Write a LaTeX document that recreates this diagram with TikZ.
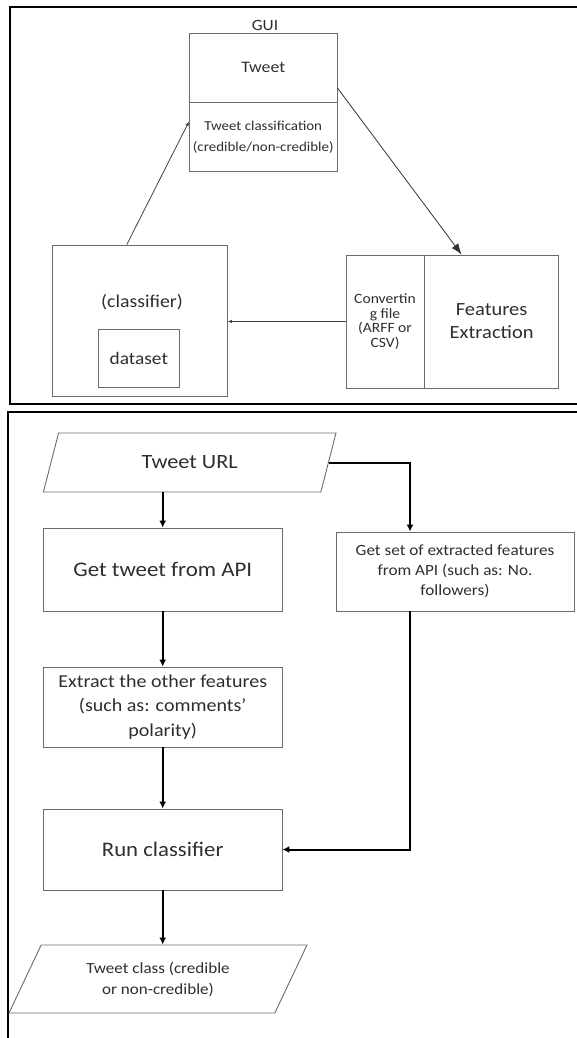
\documentclass[tikz,border=0pt]{standalone}
\usepackage{fontspec}
\setmainfont{Carlito}[FakeStretch=1.1]
\usetikzlibrary{arrows.meta,shapes.geometric,positioning}
\definecolor{boxline}{gray}{0.42}
\definecolor{txtgray}{gray}{0.18}
\newcommand{\fsz}[2]{\fontsize{#1}{#2}\selectfont}

\begin{document}
\begin{tikzpicture}[x=1pt,y=-1pt,
  blk/.style={draw=boxline,line width=0.9pt,text=txtgray,align=center,inner sep=1pt},
  io/.style={blk,trapezium,trapezium stretches body,inner sep=1pt},
  link/.style={draw=black!75,line width=0.8pt,-{Latex[length=4.5pt,width=3.5pt]}},
  flow/.style={draw=black,line width=2pt,-{Latex[length=7pt,width=7pt]}},
  frame/.style={draw=black,line width=1.4pt}]
  \useasboundingbox (0,0) rectangle (577,1038);

  % GUI panel
  \draw[frame] (577,7) -- (10,7) -- (10,404) -- (577,404);
  \node[text=txtgray,font=\fsz{15.7}{18}] (gui) at (265,25) {GUI};
  \node[blk,minimum width=147.5pt,minimum height=69pt,font=\fsz{16.1}{19}] (tweet) at (263.25,67.5) {Tweet};
  \node[blk,minimum width=147.5pt,minimum height=69pt,anchor=north,inner sep=0pt,font=\fsz{13.6}{21}] (tweetcls) at (tweet.south) {Tweet classification\\(credible/non-credible)};
  \node[blk,minimum width=174.4pt,minimum height=151pt] (clf) at (139.8,320.5) {};
  \node[text=txtgray,font=\fsz{18}{22}] (clfname) at (142,302) {(classifier)};
  \node[blk,minimum width=80.4pt,minimum height=58pt,font=\fsz{17.6}{21}] (data) at (138.8,358) {dataset};
  \node[blk,minimum width=78pt,minimum height=133pt,font=\fsz{14.2}{14.8}] (conv) at (385,321.5) {Convertin\\g file\\(ARFF or\\CSV)};
  \node[blk,minimum width=133.5pt,minimum height=133pt,anchor=west,font=\fsz{18.6}{23}] (feat) at (conv.east) {Features\\Extraction};

  \draw[link] ([xshift=-13pt]clf.north) -- ([yshift=16pt]tweetcls.west);
  \draw[draw=black!80,line width=0.8pt,-{Latex[length=11pt,width=8pt]}] ([yshift=-20.5pt]tweet.east) -- ([xshift=-30pt]feat.north);
  \draw[link] (conv.west) -- (conv.west -| clf.east);

  % flow chart
  \draw[frame] (577,412) -- (8,412) -- (8,1038);
  \node[io,trapezium left angle=45,trapezium right angle=135,minimum width=292.6pt,minimum height=59pt,font=\fsz{20.3}{24}] (url) at (189.7,462.5) {Tweet URL};
  \node[blk,minimum width=238.6pt,minimum height=83pt,font=\fsz{20.8}{25}] (get) at (162.7,569.5) {Get tweet from API};
  \node[blk,minimum width=238pt,minimum height=79pt,font=\fsz{15.6}{20}] (api) at (455,571.5) {Get set of extracted features\\from API (such as: No.\\followers)};
  \node[blk,minimum width=238.6pt,minimum height=80pt,font=\fsz{18.2}{24.5}] (ext) at (162.7,707) {Extract the other features\\(such as: comments’\\polarity)};
  \node[blk,minimum width=238.6pt,minimum height=81pt,font=\fsz{20.7}{25}] (run) at (162.7,849.5) {Run classifier};
  \node[io,trapezium left angle=48.6,trapezium right angle=131.4,minimum width=298pt,minimum height=68pt,font=\fsz{15.5}{21}] (out) at (158,979) {Tweet class (credible\\or non-credible)};

  \draw[flow] (url.south -| get.north) -- (get.north);
  \draw[flow] (url.east) -| ([xshift=-45pt]api.north);
  \draw[flow] (get) -- (ext);
  \draw[flow] (ext) -- (run);
  \draw[flow] ([xshift=-45pt]api.south) |- (run.east);
  \draw[flow] (run.south) -- (run.south |- out.north);
\end{tikzpicture}
\end{document}
